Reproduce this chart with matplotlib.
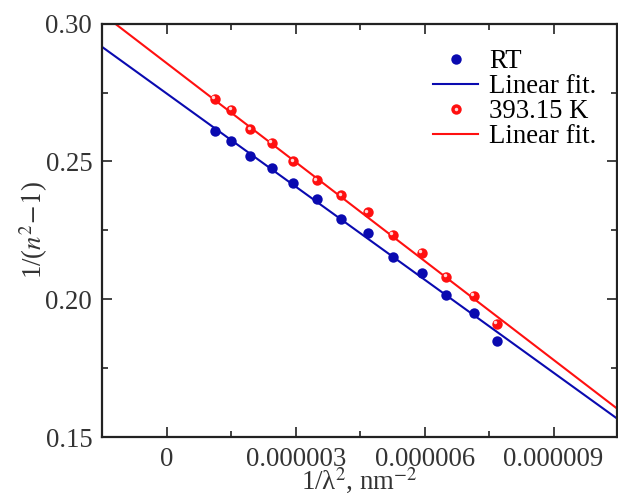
import numpy as np
import matplotlib
matplotlib.use("Agg")
import matplotlib.pyplot as plt
from matplotlib.ticker import MultipleLocator, FuncFormatter
from matplotlib.transforms import ScaledTranslation
from matplotlib.legend_handler import HandlerTuple
from matplotlib.lines import Line2D

plt.rcParams['font.family'] = ['Liberation Serif', 'DejaVu Serif']
plt.rcParams['mathtext.fontset'] = 'stix'
plt.rcParams['font.size'] = 19.3

# 1/lambda^2 values (nm^-2)
inv_lambda2 = [1.124e-6, 1.504e-6, 1.939e-6, 2.444e-6, 2.947e-6, 3.492e-6, 4.057e-6,
               4.679e-6, 5.261e-6, 5.936e-6, 6.502e-6, 7.137e-6, 7.682e-6]
rt_vals = [0.2611, 0.2574, 0.2519, 0.2476, 0.2422, 0.2365, 0.2290,
           0.2239, 0.2152, 0.2097, 0.2015, 0.1949, 0.1849]
hot_vals = [0.2728, 0.2688, 0.2616, 0.2567, 0.2501, 0.2432, 0.2377,
            0.2315, 0.2235, 0.2168, 0.2081, 0.2012, 0.1912]
# linear fits: (slope, intercept)
rt_fit = (-11250.0, 0.2746)
hot_fit = (-11954.0, 0.2856)

blue = '#0a0ab0'
red = '#ff1010'
hilite = '#ffd8d8'

fig = plt.figure(figsize=(6.18, 5.03), dpi=100)
ax = fig.add_axes([0.165, 0.131, 0.833, 0.822])

xlim = (-1.51e-6, 10.47e-6)
xs = np.array(xlim)

ax.plot(xs, rt_fit[0] * xs + rt_fit[1], color=blue, lw=1.5, zorder=2)
ax.plot(xs, hot_fit[0] * xs + hot_fit[1], color=red, lw=1.5, zorder=2)

ax.plot(inv_lambda2, rt_vals, 'o', color=blue, ms=7.5, mew=0, zorder=3)
ax.plot(inv_lambda2, hot_vals, 'o', color=red, ms=7.5, mew=0, zorder=3)
shift = ax.transData + ScaledTranslation(-1.2 / 72, 1.2 / 72, fig.dpi_scale_trans)
ax.plot(inv_lambda2, hot_vals, 'o', color=hilite, ms=2.5, mew=0, zorder=4,
        transform=shift)

ax.set_xlim(xlim)
ax.set_ylim(0.15, 0.30)

ax.xaxis.set_major_locator(MultipleLocator(3e-6))
ax.xaxis.set_minor_locator(MultipleLocator(1.5e-6))
ax.yaxis.set_major_locator(MultipleLocator(0.05))
ax.yaxis.set_minor_locator(MultipleLocator(0.025))
ax.xaxis.set_major_formatter(FuncFormatter(lambda v, p: '0' if abs(v) < 1e-12 else f'{v:.6f}'))
ax.yaxis.set_major_formatter(FuncFormatter(lambda v, p: f'{v:.2f}'))
ax.tick_params(which='both', direction='in', top=True, right=True, width=1.2, colors='#222222',
               labelcolor='#333333')
ax.tick_params(which='major', length=7, pad=7)
ax.tick_params(which='minor', length=4.5)
for s in ax.spines.values():
    s.set_linewidth(1.6)
    s.set_color('#222222')

ax.set_xlabel(r'1/λ$^2$, nm$^{-2}$', labelpad=-4, color='#333333')
ax.set_ylabel(r'1/($n^2\!-\!1$)', labelpad=-3, color='#333333')

h_rt = Line2D([], [], ls='none', marker='o', color=blue, ms=7.5, mew=0)
h_hot = Line2D([], [], ls='none', marker='o', color=red, ms=7.5, mew=0)
h_hl = Line2D([], [], ls='none', marker='o', color=hilite, ms=2.5, mew=0)
h_l1 = Line2D([], [], color=blue, lw=1.5)
h_l2 = Line2D([], [], color=red, lw=1.5)
ax.legend([h_rt, h_l1, (h_hot, h_hl), h_l2], ['RT', 'Linear fit.', '393.15 K', 'Linear fit.'],
          handler_map={tuple: HandlerTuple(ndivide=1)},
          loc='upper right', bbox_to_anchor=(0.997, 0.983), frameon=False,
          handlelength=1.7, handletextpad=0.4, labelspacing=0.0, borderaxespad=0.3)

fig.savefig('out.png', dpi=100)
